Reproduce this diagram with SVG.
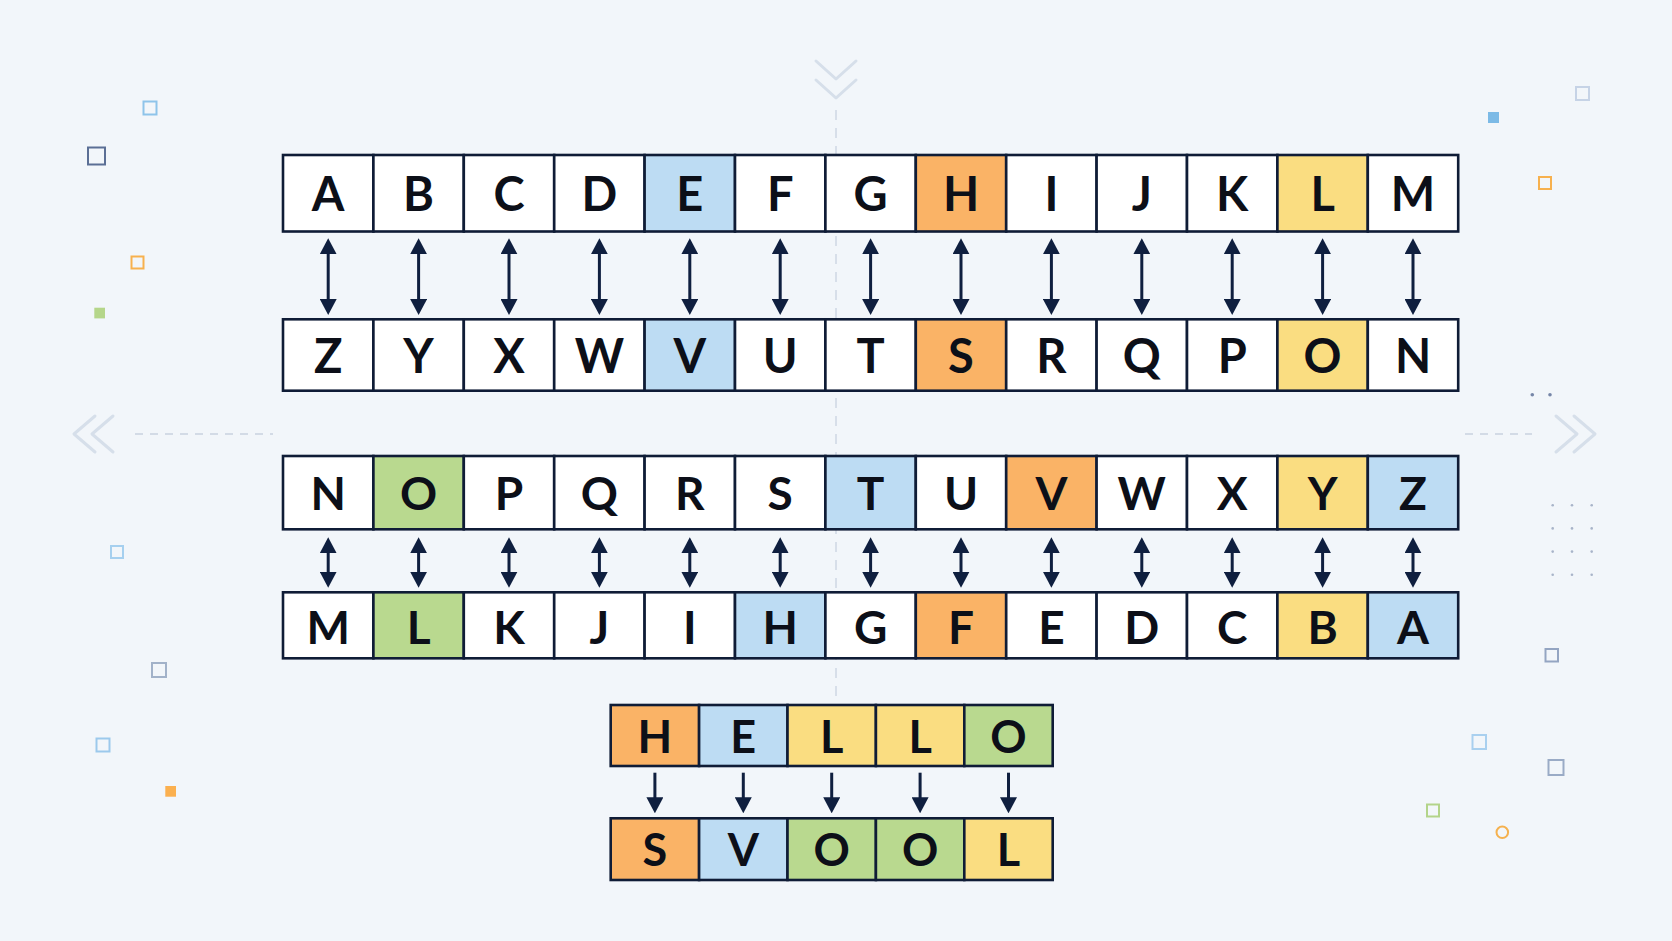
<svg xmlns="http://www.w3.org/2000/svg" width="1672" height="941" viewBox="0 0 1672 941">
<defs>
<style>
.c{stroke:#0f1c36;stroke-width:2.6}
.w{fill:#ffffff}.b{fill:#bddcf3}.o{fill:#fab366}.y{fill:#fadd81}.g{fill:#b9d98f}
.t{font-family:Lato,"Open Sans","Liberation Sans",sans-serif;font-weight:700;fill:#0c0f18;text-anchor:middle}
.t1{font-size:47px}.t2{font-size:46px}.t3{font-size:45px}
.ar{stroke:#0f1f3f;stroke-width:3;fill:none}
.deco{fill:none;stroke-width:2}
.chev{fill:none;stroke:#d6dfea;stroke-width:3;stroke-linecap:round;stroke-linejoin:round}
.dash{stroke:#d3dbe6;stroke-width:2;stroke-dasharray:8 7;fill:none}
</style>
<marker id="ah" viewBox="0 0 16 17" refX="12" refY="8.5" markerWidth="16" markerHeight="17" orient="auto-start-reverse" markerUnits="userSpaceOnUse">
<path d="M0,0 L16,8.5 L0,17 z" fill="#0f1f3f"/>
</marker>
</defs>
<rect width="1672" height="941" fill="#f2f6fa"/>

<g id="background-decor">
<line x1="836" y1="110" x2="836" y2="705" stroke="#d0d9e5" stroke-width="1.6" stroke-dasharray="10 8"/>
<path class="chev" d="M816,61 L836,79 L856,61 M816,80 L836,98 L856,80"/>
<path class="chev" d="M95,416 L74,434 L95,452 M113,416 L92,434 L113,452"/>
<path class="chev" d="M1556,416 L1577,434 L1556,452 M1574,416 L1595,434 L1574,452"/>
<line class="dash" x1="135" y1="434" x2="273" y2="434"/>
<line class="dash" x1="1465" y1="434" x2="1532" y2="434"/>
<rect class="deco" x="143.5" y="101.5" width="13" height="13" stroke="#8ec4ea"/>
<rect class="deco" x="88" y="147.5" width="17" height="17" stroke="#5b6f95"/>
<rect class="deco" x="131.5" y="256.5" width="12" height="12" stroke="#f7b14e"/>
<rect x="94.3" y="307.7" width="10.7" height="10.7" fill="#b5d68a"/>
<rect class="deco" x="111" y="546" width="12" height="12" stroke="#a6d0ef"/>
<rect class="deco" x="152" y="663" width="14" height="14" stroke="#a2b2c9"/>
<rect class="deco" x="96.5" y="738.5" width="13" height="13" stroke="#9cc9ec"/>
<rect x="165.3" y="786" width="10.7" height="10.7" fill="#fbb04f"/>
<rect class="deco" x="1576" y="87" width="13" height="13" stroke="#c6d3e6"/>
<rect x="1488" y="112" width="11" height="11" fill="#7cbae6"/>
<rect class="deco" x="1539" y="177" width="12" height="12" stroke="#f7b14e"/>
<rect class="deco" x="1545.5" y="649" width="12.5" height="12.5" stroke="#94a5c2"/>
<rect class="deco" x="1472.5" y="735" width="13.5" height="14" stroke="#a9d0ef"/>
<rect class="deco" x="1548.5" y="760" width="15" height="15" stroke="#9aabc6"/>
<rect class="deco" x="1427" y="804.5" width="12" height="12" stroke="#b3d48a"/>
<circle class="deco" cx="1502.3" cy="832.3" r="5.8" stroke="#f5b14e"/>
<g fill="#7686a8"><circle cx="1532.3" cy="394.8" r="1.8"/><circle cx="1550" cy="394.8" r="1.8"/></g>
<g fill="#a8b4c9">
<circle cx="1552.7" cy="505.3" r="1.3"/><circle cx="1572" cy="505.3" r="1.3"/><circle cx="1591.7" cy="505.3" r="1.3"/>
<circle cx="1552.7" cy="528.4" r="1.3"/><circle cx="1572" cy="528.4" r="1.3"/><circle cx="1591.7" cy="528.4" r="1.3"/>
<circle cx="1552.7" cy="551.6" r="1.3"/><circle cx="1572" cy="551.6" r="1.3"/><circle cx="1591.7" cy="551.6" r="1.3"/>
<circle cx="1552.7" cy="574.7" r="1.3"/><circle cx="1572" cy="574.7" r="1.3"/><circle cx="1591.7" cy="574.7" r="1.3"/>
</g>
</g>

<g id="row-plain-1">
<rect class="c w" x="283" y="155" width="90.4" height="76.5"/>
<rect class="c w" x="373.4" y="155" width="90.4" height="76.5"/>
<rect class="c w" x="463.8" y="155" width="90.4" height="76.5"/>
<rect class="c w" x="554.2" y="155" width="90.4" height="76.5"/>
<rect class="c b" x="644.6" y="155" width="90.4" height="76.5"/>
<rect class="c w" x="735" y="155" width="90.4" height="76.5"/>
<rect class="c w" x="825.4" y="155" width="90.4" height="76.5"/>
<rect class="c o" x="915.8" y="155" width="90.4" height="76.5"/>
<rect class="c w" x="1006.2" y="155" width="90.4" height="76.5"/>
<rect class="c w" x="1096.6" y="155" width="90.4" height="76.5"/>
<rect class="c w" x="1187" y="155" width="90.4" height="76.5"/>
<rect class="c y" x="1277.4" y="155" width="90.4" height="76.5"/>
<rect class="c w" x="1367.8" y="155" width="90.4" height="76.5"/>
<g class="t t1">
<text x="328.2" y="211">A</text><text x="418.6" y="211">B</text><text x="509" y="211">C</text><text x="599.4" y="211">D</text><text x="689.8" y="211">E</text><text x="780.2" y="211">F</text><text x="870.6" y="211">G</text><text x="961" y="211">H</text><text x="1051.4" y="211">I</text><text x="1141.8" y="211">J</text><text x="1232.2" y="211">K</text><text x="1322.6" y="211">L</text><text x="1413" y="211">M</text>
</g>
</g>

<g id="row-cipher-1">
<rect class="c w" x="283" y="319.3" width="90.4" height="71.4"/>
<rect class="c w" x="373.4" y="319.3" width="90.4" height="71.4"/>
<rect class="c w" x="463.8" y="319.3" width="90.4" height="71.4"/>
<rect class="c w" x="554.2" y="319.3" width="90.4" height="71.4"/>
<rect class="c b" x="644.6" y="319.3" width="90.4" height="71.4"/>
<rect class="c w" x="735" y="319.3" width="90.4" height="71.4"/>
<rect class="c w" x="825.4" y="319.3" width="90.4" height="71.4"/>
<rect class="c o" x="915.8" y="319.3" width="90.4" height="71.4"/>
<rect class="c w" x="1006.2" y="319.3" width="90.4" height="71.4"/>
<rect class="c w" x="1096.6" y="319.3" width="90.4" height="71.4"/>
<rect class="c w" x="1187" y="319.3" width="90.4" height="71.4"/>
<rect class="c y" x="1277.4" y="319.3" width="90.4" height="71.4"/>
<rect class="c w" x="1367.8" y="319.3" width="90.4" height="71.4"/>
<g class="t t1">
<text x="328.2" y="373.3">Z</text><text x="418.6" y="373.3">Y</text><text x="509" y="373.3">X</text><text x="599.4" y="373.3">W</text><text x="689.8" y="373.3">V</text><text x="780.2" y="373.3">U</text><text x="870.6" y="373.3">T</text><text x="961" y="373.3">S</text><text x="1051.4" y="373.3">R</text><text x="1141.8" y="373.3">Q</text><text x="1232.2" y="373.3">P</text><text x="1322.6" y="373.3">O</text><text x="1413" y="373.3">N</text>
</g>
</g>

<g id="row-plain-2">
<rect class="c w" x="283" y="456" width="90.4" height="73.3"/>
<rect class="c g" x="373.4" y="456" width="90.4" height="73.3"/>
<rect class="c w" x="463.8" y="456" width="90.4" height="73.3"/>
<rect class="c w" x="554.2" y="456" width="90.4" height="73.3"/>
<rect class="c w" x="644.6" y="456" width="90.4" height="73.3"/>
<rect class="c w" x="735" y="456" width="90.4" height="73.3"/>
<rect class="c b" x="825.4" y="456" width="90.4" height="73.3"/>
<rect class="c w" x="915.8" y="456" width="90.4" height="73.3"/>
<rect class="c o" x="1006.2" y="456" width="90.4" height="73.3"/>
<rect class="c w" x="1096.6" y="456" width="90.4" height="73.3"/>
<rect class="c w" x="1187" y="456" width="90.4" height="73.3"/>
<rect class="c y" x="1277.4" y="456" width="90.4" height="73.3"/>
<rect class="c b" x="1367.8" y="456" width="90.4" height="73.3"/>
<g class="t t2">
<text x="328.2" y="510">N</text><text x="418.6" y="510">O</text><text x="509" y="510">P</text><text x="599.4" y="510">Q</text><text x="689.8" y="510">R</text><text x="780.2" y="510">S</text><text x="870.6" y="510">T</text><text x="961" y="510">U</text><text x="1051.4" y="510">V</text><text x="1141.8" y="510">W</text><text x="1232.2" y="510">X</text><text x="1322.6" y="510">Y</text><text x="1413" y="510">Z</text>
</g>
</g>

<g id="row-cipher-2">
<rect class="c w" x="283" y="592.3" width="90.4" height="66"/>
<rect class="c g" x="373.4" y="592.3" width="90.4" height="66"/>
<rect class="c w" x="463.8" y="592.3" width="90.4" height="66"/>
<rect class="c w" x="554.2" y="592.3" width="90.4" height="66"/>
<rect class="c w" x="644.6" y="592.3" width="90.4" height="66"/>
<rect class="c b" x="735" y="592.3" width="90.4" height="66"/>
<rect class="c w" x="825.4" y="592.3" width="90.4" height="66"/>
<rect class="c o" x="915.8" y="592.3" width="90.4" height="66"/>
<rect class="c w" x="1006.2" y="592.3" width="90.4" height="66"/>
<rect class="c w" x="1096.6" y="592.3" width="90.4" height="66"/>
<rect class="c w" x="1187" y="592.3" width="90.4" height="66"/>
<rect class="c y" x="1277.4" y="592.3" width="90.4" height="66"/>
<rect class="c b" x="1367.8" y="592.3" width="90.4" height="66"/>
<g class="t t2">
<text x="328.2" y="643.5">M</text><text x="418.6" y="643.5">L</text><text x="509" y="643.5">K</text><text x="599.4" y="643.5">J</text><text x="689.8" y="643.5">I</text><text x="780.2" y="643.5">H</text><text x="870.6" y="643.5">G</text><text x="961" y="643.5">F</text><text x="1051.4" y="643.5">E</text><text x="1141.8" y="643.5">D</text><text x="1232.2" y="643.5">C</text><text x="1322.6" y="643.5">B</text><text x="1413" y="643.5">A</text>
</g>
</g>

<g id="word-hello">
<rect class="c o" x="610.7" y="705" width="88.4" height="61"/>
<rect class="c b" x="699.1" y="705" width="88.4" height="61"/>
<rect class="c y" x="787.5" y="705" width="88.4" height="61"/>
<rect class="c y" x="875.9" y="705" width="88.4" height="61"/>
<rect class="c g" x="964.3" y="705" width="88.4" height="61"/>
<g class="t t3">
<text x="654.9" y="752.7">H</text><text x="743.3" y="752.7">E</text><text x="831.7" y="752.7">L</text><text x="920.1" y="752.7">L</text><text x="1008.5" y="752.7">O</text>
</g>
</g>

<g id="word-svool">
<rect class="c o" x="610.7" y="818.3" width="88.4" height="61.7"/>
<rect class="c b" x="699.1" y="818.3" width="88.4" height="61.7"/>
<rect class="c g" x="787.5" y="818.3" width="88.4" height="61.7"/>
<rect class="c g" x="875.9" y="818.3" width="88.4" height="61.7"/>
<rect class="c y" x="964.3" y="818.3" width="88.4" height="61.7"/>
<g class="t t3">
<text x="654.9" y="866">S</text><text x="743.3" y="866">V</text><text x="831.7" y="866">O</text><text x="920.1" y="866">O</text><text x="1008.5" y="866">L</text>
</g>
</g>

<g id="connectors" class="ar">
<line x1="328.2" y1="242.3" x2="328.2" y2="311" marker-start="url(#ah)" marker-end="url(#ah)"/>
<line x1="418.6" y1="242.3" x2="418.6" y2="311" marker-start="url(#ah)" marker-end="url(#ah)"/>
<line x1="509" y1="242.3" x2="509" y2="311" marker-start="url(#ah)" marker-end="url(#ah)"/>
<line x1="599.4" y1="242.3" x2="599.4" y2="311" marker-start="url(#ah)" marker-end="url(#ah)"/>
<line x1="689.8" y1="242.3" x2="689.8" y2="311" marker-start="url(#ah)" marker-end="url(#ah)"/>
<line x1="780.2" y1="242.3" x2="780.2" y2="311" marker-start="url(#ah)" marker-end="url(#ah)"/>
<line x1="870.6" y1="242.3" x2="870.6" y2="311" marker-start="url(#ah)" marker-end="url(#ah)"/>
<line x1="961" y1="242.3" x2="961" y2="311" marker-start="url(#ah)" marker-end="url(#ah)"/>
<line x1="1051.4" y1="242.3" x2="1051.4" y2="311" marker-start="url(#ah)" marker-end="url(#ah)"/>
<line x1="1141.8" y1="242.3" x2="1141.8" y2="311" marker-start="url(#ah)" marker-end="url(#ah)"/>
<line x1="1232.2" y1="242.3" x2="1232.2" y2="311" marker-start="url(#ah)" marker-end="url(#ah)"/>
<line x1="1322.6" y1="242.3" x2="1322.6" y2="311" marker-start="url(#ah)" marker-end="url(#ah)"/>
<line x1="1413" y1="242.3" x2="1413" y2="311" marker-start="url(#ah)" marker-end="url(#ah)"/>

<line x1="328.2" y1="541.3" x2="328.2" y2="583.7" marker-start="url(#ah)" marker-end="url(#ah)"/>
<line x1="418.6" y1="541.3" x2="418.6" y2="583.7" marker-start="url(#ah)" marker-end="url(#ah)"/>
<line x1="509" y1="541.3" x2="509" y2="583.7" marker-start="url(#ah)" marker-end="url(#ah)"/>
<line x1="599.4" y1="541.3" x2="599.4" y2="583.7" marker-start="url(#ah)" marker-end="url(#ah)"/>
<line x1="689.8" y1="541.3" x2="689.8" y2="583.7" marker-start="url(#ah)" marker-end="url(#ah)"/>
<line x1="780.2" y1="541.3" x2="780.2" y2="583.7" marker-start="url(#ah)" marker-end="url(#ah)"/>
<line x1="870.6" y1="541.3" x2="870.6" y2="583.7" marker-start="url(#ah)" marker-end="url(#ah)"/>
<line x1="961" y1="541.3" x2="961" y2="583.7" marker-start="url(#ah)" marker-end="url(#ah)"/>
<line x1="1051.4" y1="541.3" x2="1051.4" y2="583.7" marker-start="url(#ah)" marker-end="url(#ah)"/>
<line x1="1141.8" y1="541.3" x2="1141.8" y2="583.7" marker-start="url(#ah)" marker-end="url(#ah)"/>
<line x1="1232.2" y1="541.3" x2="1232.2" y2="583.7" marker-start="url(#ah)" marker-end="url(#ah)"/>
<line x1="1322.6" y1="541.3" x2="1322.6" y2="583.7" marker-start="url(#ah)" marker-end="url(#ah)"/>
<line x1="1413" y1="541.3" x2="1413" y2="583.7" marker-start="url(#ah)" marker-end="url(#ah)"/>

<line x1="654.9" y1="772.7" x2="654.9" y2="809.3" marker-end="url(#ah)"/>
<line x1="743.3" y1="772.7" x2="743.3" y2="809.3" marker-end="url(#ah)"/>
<line x1="831.7" y1="772.7" x2="831.7" y2="809.3" marker-end="url(#ah)"/>
<line x1="920.1" y1="772.7" x2="920.1" y2="809.3" marker-end="url(#ah)"/>
<line x1="1008.5" y1="772.7" x2="1008.5" y2="809.3" marker-end="url(#ah)"/>
</g>
</svg>
